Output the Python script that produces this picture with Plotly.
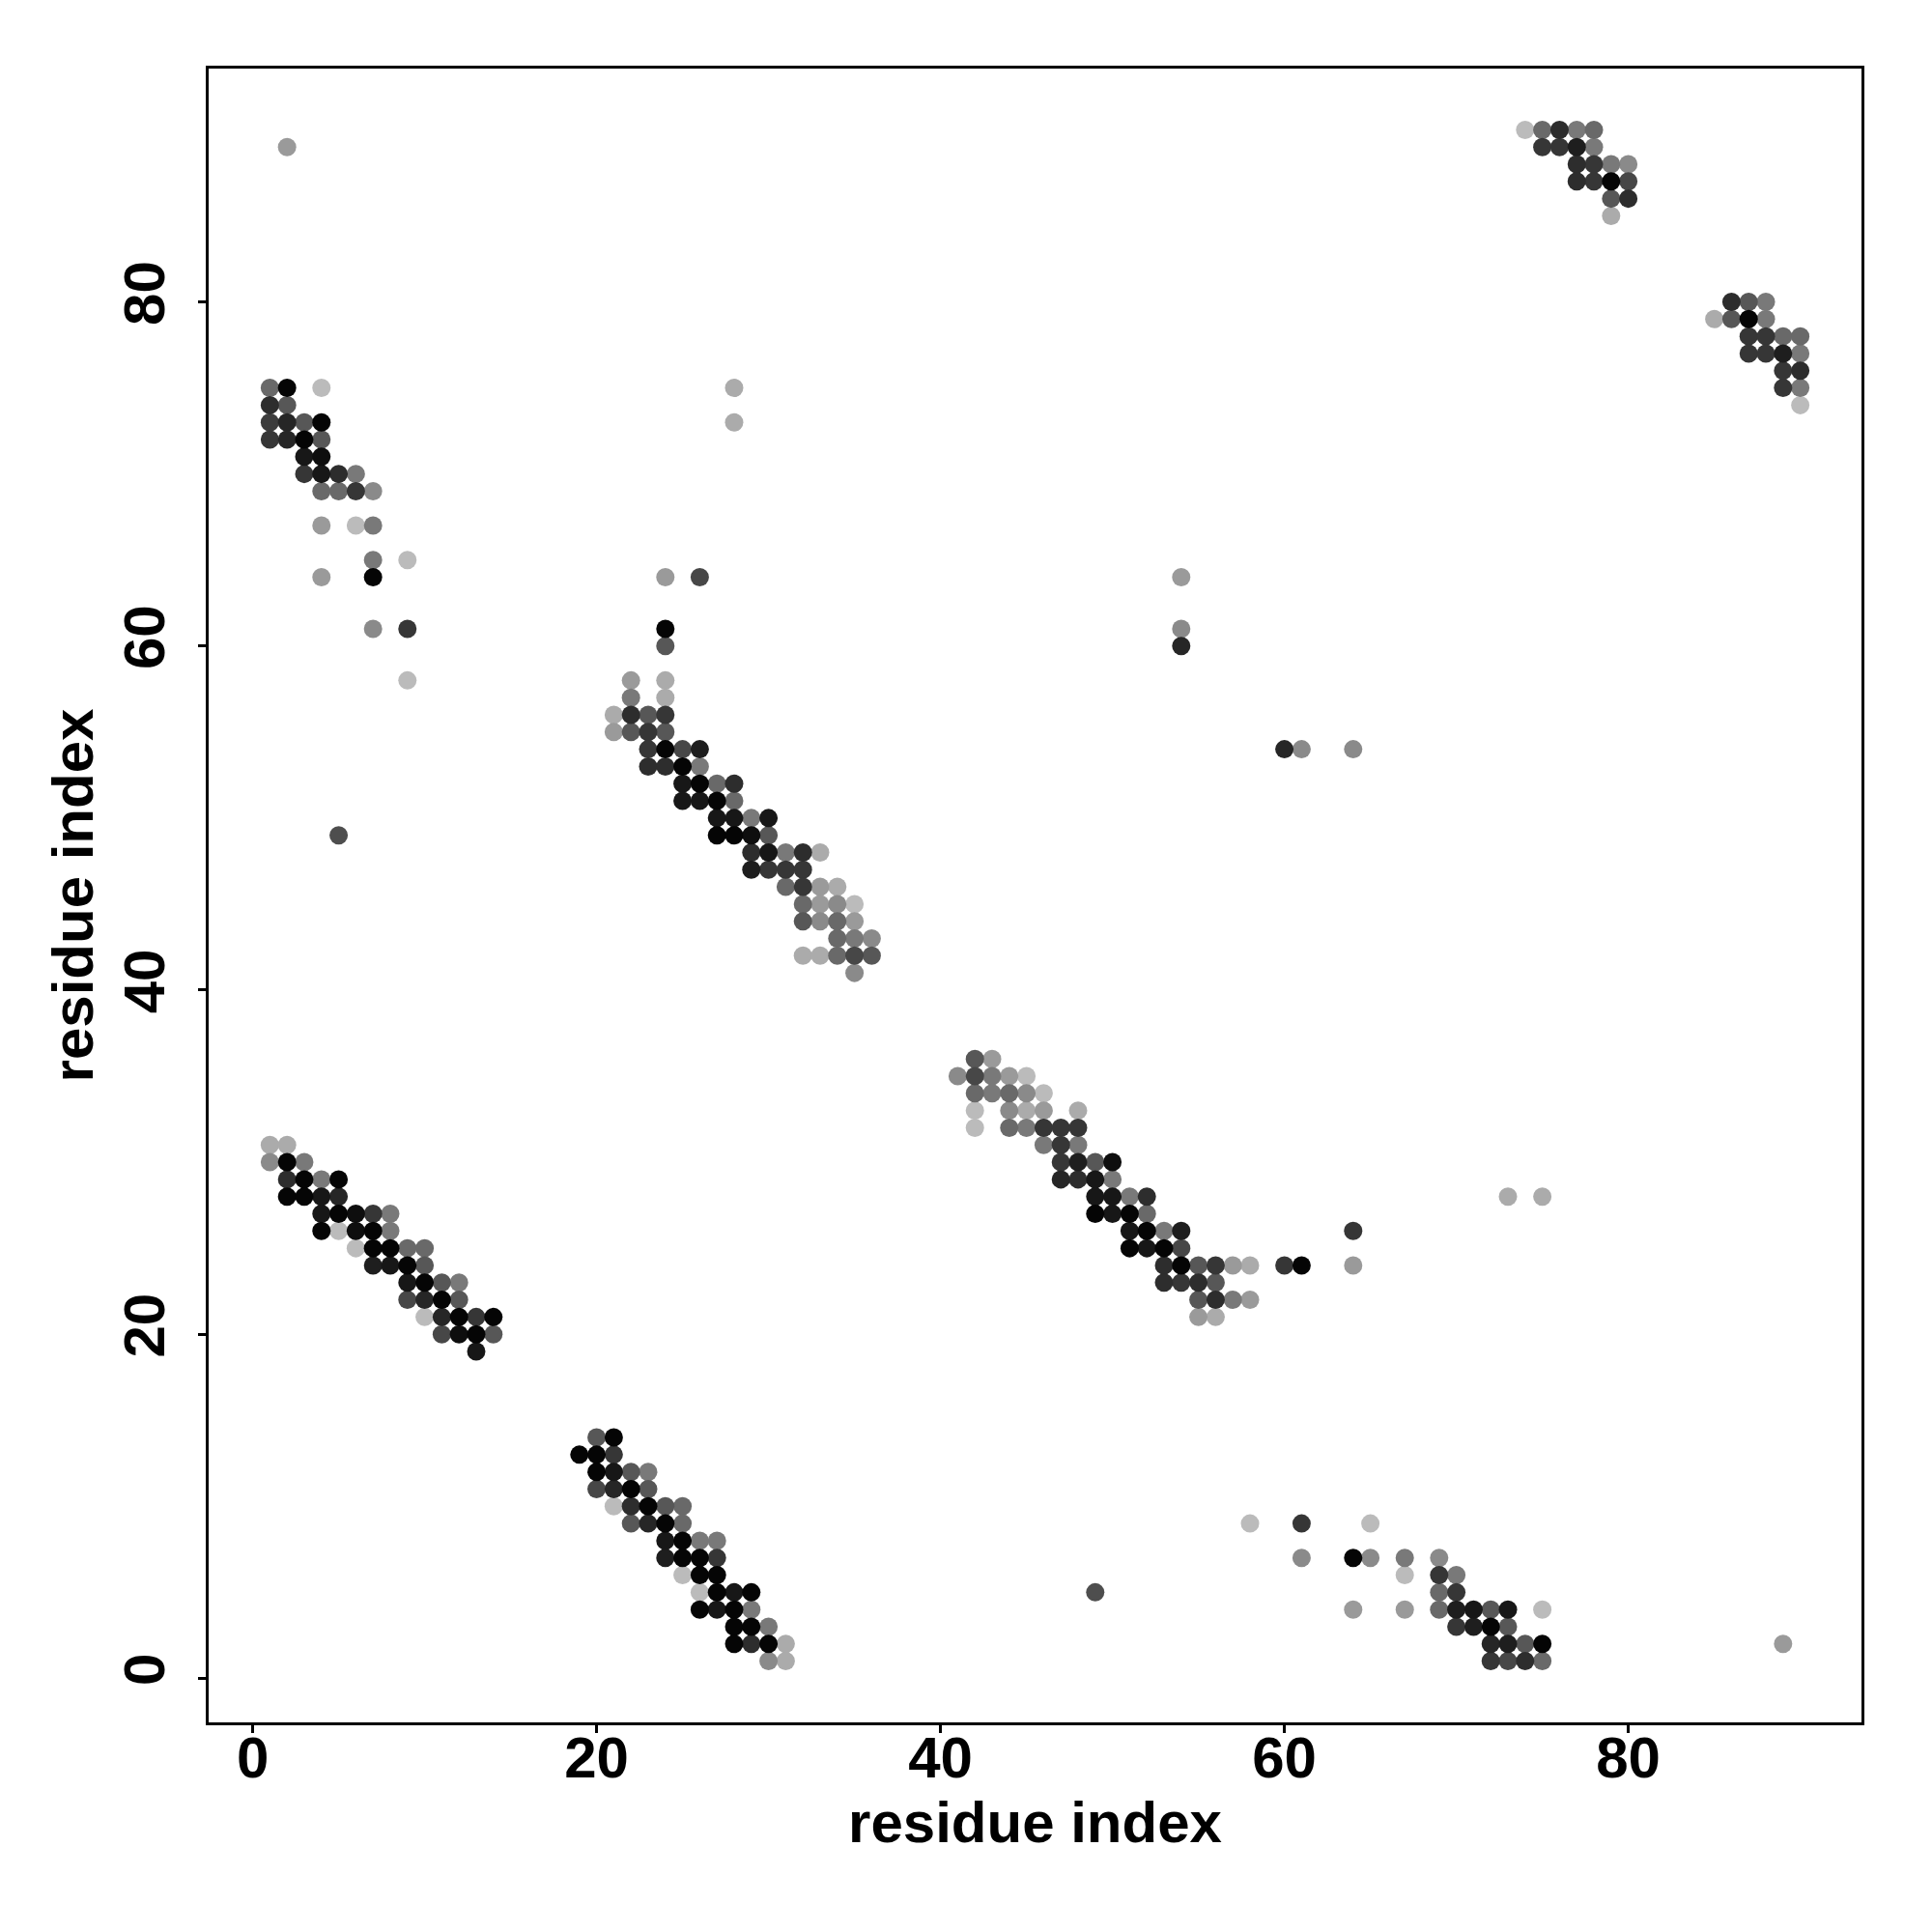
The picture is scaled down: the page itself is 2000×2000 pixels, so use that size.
import plotly.graph_objects as go

# contact clusters: (residue_i, residue_j, contact score 0..1)
cluster_a = [(1,75,.45),(2,75,1.0),(4,75,0.0),
             (1,74,.78),(2,74,.55),
             (1,73,.70),(2,73,.82),(3,73,.55),(4,73,1.0),
             (1,72,.73),(2,72,.82),(3,72,1.0),(4,72,.55),
             (3,71,.90),(4,71,.95),
             (3,70,.73),(4,70,.90),(5,70,.78),(6,70,.36),
             (4,69,.45),(5,69,.45),(6,69,.73),(7,69,.27),
             (4,67,.18),(6,67,0.0),(7,67,.36),
             (7,65,.36),(9,65,0.0),
             (4,64,.18),(7,64,1.0),
             (7,61,.27),(9,61,.73),
             (9,58,0.0),
             (2,89,.18),(5,49,.60)]

cluster_b = [(1,31,.09),(2,31,.09),
             (1,30,.27),(2,30,1.0),(3,30,.36),
             (2,29,.78),(3,29,1.0),(4,29,.36),(5,29,1.0),
             (2,28,1.0),(3,28,1.0),(4,28,.90),(5,28,.82),
             (4,27,.90),(5,27,1.0),(6,27,.95),(7,27,.73),(8,27,.36),
             (4,26,1.0),(5,26,0.0),(6,26,.95),(7,26,1.0),(8,26,.36),
             (6,25,0.0),(7,25,1.0),(8,25,1.0),(9,25,.45),(10,25,.45),
             (7,24,.86),(8,24,.90),(9,24,1.0),(10,24,.55),
             (9,23,.90),(10,23,1.0),(11,23,.55),(12,23,.36),
             (9,22,.64),(10,22,.82),(11,22,1.0),(12,22,.55),
             (10,21,0.0),(11,21,.82),(12,21,1.0),(13,21,.73),(14,21,1.0),
             (11,20,.64),(12,20,.95),(13,20,1.0),(14,20,.55),
             (13,19,.90)]

cluster_c = [(20,14,.55),(21,14,1.0),
             (19,13,1.0),(20,13,1.0),(21,13,.73),
             (20,12,1.0),(21,12,.90),(22,12,.55),(23,12,.36),
             (20,11,.64),(21,11,.82),(22,11,1.0),(23,11,.55),
             (21,10,0.0),(22,10,.78),(23,10,1.0),(24,10,.55),(25,10,.45),
             (22,9,.55),(23,9,.82),(24,9,1.0),(25,9,.45),
             (24,8,.90),(25,8,1.0),(26,8,.36),(27,8,.36),
             (24,7,.86),(25,7,1.0),(26,7,1.0),(27,7,.73),
             (25,6,0.0),(26,6,1.0),(27,6,1.0),
             (26,5,0.0),(27,5,1.0),(28,5,.90),(29,5,1.0),
             (26,4,1.0),(27,4,.90),(28,4,1.0),(29,4,.36),
             (28,3,1.0),(29,3,1.0),(30,3,.36),
             (28,2,1.0),(29,2,.78),(30,2,1.0),(31,2,.09),
             (30,1,.27),(31,1,.09)]

cluster_d = [(24,64,.18),(26,64,.64),
             (24,61,1.0),(24,60,.55),
             (22,58,.18),(24,58,.09),
             (22,57,.36),(24,57,.09),
             (21,56,.09),(22,56,.78),(23,56,.55),(24,56,.73),
             (21,55,.18),(22,55,.55),(23,55,.73),(24,55,.55),
             (23,54,.73),(24,54,1.0),(25,54,.64),(26,54,.86),
             (23,53,.78),(24,53,.78),(25,53,1.0),(26,53,.36),
             (25,52,.90),(26,52,1.0),(27,52,.45),(28,52,.78),
             (25,51,.90),(26,51,.90),(27,51,1.0),(28,51,.45),
             (27,50,.90),(28,50,.90),(29,50,.36),(30,50,.90),
             (27,49,1.0),(28,49,1.0),(29,49,.95),(30,49,.55),
             (29,48,.78),(30,48,.90),(31,48,.36),(32,48,.78),(33,48,.09),
             (29,47,.86),(30,47,.73),(31,47,.73),(32,47,.73),
             (31,46,.45),(32,46,.73),(33,46,.18),(34,46,.09),
             (32,45,.45),(33,45,.18),(34,45,.27),(35,45,0.0),
             (32,44,.55),(33,44,.27),(34,44,.45),(35,44,.18),
             (34,43,.45),(35,43,.36),(36,43,.27),
             (32,42,.09),(33,42,.09),(34,42,.45),(35,42,.64),(36,42,.55),
             (35,41,.27),
             (28,75,.09),(28,73,.09)]

cluster_e = [(42,36,.55),(43,36,.18),
             (41,35,.27),(42,35,.64),(43,35,.36),(44,35,.18),(45,35,0.0),
             (42,34,.45),(43,34,.36),(44,34,.45),(45,34,.27),(46,34,0.0),
             (42,33,0.0),(44,33,.27),(45,33,.09),(46,33,.18),(48,33,.09),
             (42,32,0.0),(44,32,.45),(45,32,.36),(46,32,.73),(47,32,.73),(48,32,.73),
             (46,31,.36),(47,31,.73),(48,31,.36),
             (47,30,.73),(48,30,.86),(49,30,.55),(50,30,.95),
             (47,29,.82),(48,29,.78),(49,29,.90),(50,29,.36),
             (49,28,.90),(50,28,.90),(51,28,.36),(52,28,.78),
             (49,27,1.0),(50,27,.90),(51,27,1.0),(52,27,.45),
             (51,26,.90),(52,26,1.0),(53,26,.36),(54,26,.86),
             (51,25,1.0),(52,25,.90),(53,25,1.0),(54,25,.64),
             (53,24,.78),(54,24,1.0),(55,24,.55),(56,24,.73),(57,24,.18),(58,24,.09),
             (53,23,.78),(54,23,.73),(55,23,.78),(56,23,.55),
             (55,22,.55),(56,22,.78),(57,22,.36),(58,22,.18),
             (55,21,.18),(56,21,.09),
             (60,24,.73),(61,24,1.0),(64,26,.73),(64,24,.18),(73,28,.09),(75,28,.09),
             (54,64,.18),(54,61,.27),(54,60,.82),(60,54,.82),(61,54,.27),(64,54,.27)]

cluster_f = [(74,90,0.0),(75,90,.45),(76,90,.78),(77,90,.36),(78,90,.45),
             (75,89,.73),(76,89,.73),(77,89,.86),(78,89,.36),
             (77,88,.78),(78,88,.73),(79,88,.36),(80,88,.27),
             (77,87,.78),(78,87,.73),(79,87,1.0),(80,87,.64),
             (79,86,.55),(80,86,.78),
             (79,85,.09)]

cluster_g = [(86,80,.78),(87,80,.55),(88,80,.36),
             (85,79,.09),(86,79,.55),(87,79,1.0),(88,79,.36),
             (87,78,.73),(88,78,.73),(89,78,.45),(90,78,.45),
             (87,77,.73),(88,77,.73),(89,77,.86),(90,77,.36),
             (89,76,.73),(90,76,.78),
             (89,75,.73),(90,75,.36),
             (90,74,0.0)]

cluster_h = [(58,9,0.0),(61,9,.73),(65,9,0.0),
             (61,7,.27),(64,7,1.0),(65,7,.27),(67,7,.36),(69,7,.27),
             (67,6,0.0),(69,6,.73),(70,6,.36),
             (69,5,.45),(70,5,.73),
             (64,4,.18),(67,4,.18),(69,4,.45),(70,4,.86),(71,4,.90),(72,4,.55),(73,4,.90),(75,4,0.0),
             (70,3,.73),(71,3,.86),(72,3,1.0),(73,3,.55),
             (72,2,.82),(73,2,.86),(74,2,.55),(75,2,1.0),
             (72,1,.73),(73,1,.64),(74,1,.78),(75,1,.45),
             (49,5,.60),(89,2,.18)]

tick_values = [0, 20, 40, 60, 80]
axis_title = "residue index"

all_points = cluster_a + cluster_b + cluster_c + cluster_d + cluster_e + cluster_f + cluster_g + cluster_h
# draw lighter points first so darker ones sit on top
all_points = sorted(all_points, key=lambda p: p[2])
xs = [p[0] for p in all_points]
ys = [p[1] for p in all_points]
scores = [p[2] for p in all_points]

fig = go.Figure(go.Scatter(
    x=xs, y=ys, mode="markers",
    marker=dict(size=19, color=scores, cmin=0, cmax=1,
                colorscale=[[0, "rgb(187,187,187)"], [1, "rgb(5,5,5)"]],
                line=dict(width=0), showscale=False),
    showlegend=False, hoverinfo="x+y"))

font_family = "Liberation Sans, Arial, Helvetica, sans-serif"
axis_common = dict(
    range=[-2.56, 93.56], tickvals=tick_values, ticks="outside", ticklen=8,
    tickwidth=3, tickcolor="black", showline=True, linewidth=3, linecolor="black",
    mirror=True, showgrid=False, zeroline=False,
    tickfont=dict(family=font_family, size=60, color="black", weight="bold"),
)

fig.update_layout(
    width=2000, height=2000,
    margin=dict(l=208, r=81, t=63, b=225, autoexpand=False),
    paper_bgcolor="white", plot_bgcolor="white",
    xaxis=dict(**axis_common, ticklabelstandoff=-26,
               title=dict(text=axis_title, standoff=8,
                          font=dict(family=font_family, size=60, color="black", weight="bold"))),
    yaxis=dict(**axis_common, tickangle=-90, ticklabelstandoff=11,
               title=dict(text=axis_title, standoff=1,
                          font=dict(family=font_family, size=60, color="black", weight="bold"))),
)

fig.write_html("out.html")
